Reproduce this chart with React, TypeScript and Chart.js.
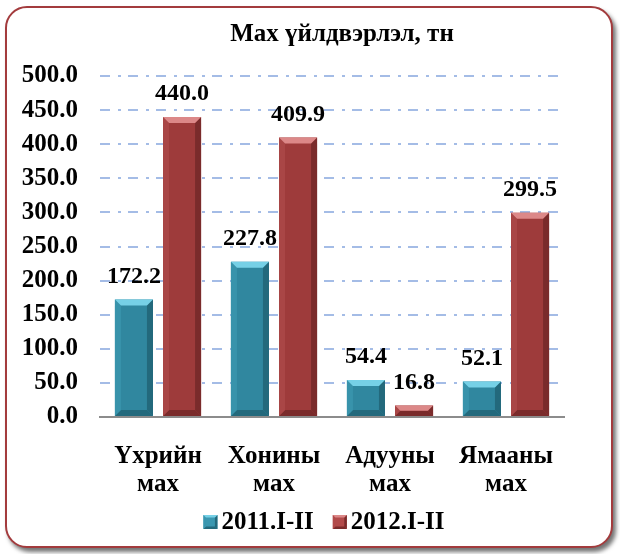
import React, { useEffect, useRef } from "react";
import { Chart, registerables } from "chart.js";

Chart.register(...registerables);

const categories: string[][] = [
  ["Үхрийн", "мах"],
  ["Хонины", "мах"],
  ["Адууны", "мах"],
  ["Ямааны", "мах"],
];
const seriesNames = ["2011.I-II", "2012.I-II"];
const values2011 = [172.2, 227.8, 54.4, 52.1];
const values2012 = [440.0, 409.9, 16.8, 299.5];
const yMin = 0;
const yMax = 500;
const yStep = 50;
const titleText = "Мах үйлдвэрлэл, тн";

const FONT = "'Liberation Serif', 'Times New Roman', serif";

const palette = [
  { main: "#30879f", light: "#76d0e6", side: "#3893ab", dark: "#23697c", legend: "#3a97b0" },
  { main: "#9e3b3b", light: "#dc8888", side: "#a94646", dark: "#7a2b2b", legend: "#b24a4a" },
];

const poly = (ctx: CanvasRenderingContext2D, pts: number[][], fill: string) => {
  ctx.beginPath();
  ctx.moveTo(pts[0][0], pts[0][1]);
  for (let i = 1; i < pts.length; i++) ctx.lineTo(pts[i][0], pts[i][1]);
  ctx.closePath();
  ctx.fillStyle = fill;
  ctx.fill();
};

const drawBevel = (ctx: CanvasRenderingContext2D, l: number, t: number, r: number, btm: number, bev: number, col: any) => {
  const h = btm - t;
  const b = Math.min(bev, h / 2, (r - l) / 2);
  poly(ctx, [[l, btm], [r, btm], [r - b, btm - b], [l + b, btm - b]], col.dark);
  poly(ctx, [[l, t], [l + b, t + b], [l + b, btm - b], [l, btm]], col.side);
  poly(ctx, [[r, t], [r - b, t + b], [r - b, btm - b], [r, btm]], col.dark);
  poly(ctx, [[l, t], [r, t], [r - b, t + b], [l + b, t + b]], col.light);
};

const bevelPlugin = {
  id: "bevel",
  afterDatasetsDraw(chart: any) {
    const ctx = chart.ctx;
    chart.data.datasets.forEach((ds: any, di: number) => {
      const meta = chart.getDatasetMeta(di);
      const col = palette[di];
      meta.data.forEach((bar: any) => {
        const w = bar.width;
        ctx.save();
        drawBevel(ctx, bar.x - w / 2, Math.min(bar.y, bar.base), bar.x + w / 2, Math.max(bar.y, bar.base), 6, col);
        ctx.restore();
      });
    });
  },
};

const labelPlugin = {
  id: "valueLabels",
  afterDatasetsDraw(chart: any) {
    const ctx = chart.ctx;
    ctx.save();
    ctx.font = `bold 24px ${FONT}`;
    ctx.fillStyle = "#000";
    ctx.textAlign = "center";
    ctx.textBaseline = "middle";
    chart.data.datasets.forEach((ds: any, di: number) => {
      const meta = chart.getDatasetMeta(di);
      meta.data.forEach((bar: any, i: number) => {
        const v = ds.data[i] as number;
        ctx.fillText(v.toFixed(1), bar.x, bar.y - 23);
      });
    });
    ctx.restore();
  },
};

const titleLegendPlugin = {
  id: "titleLegend",
  afterDraw(chart: any) {
    const ctx = chart.ctx as CanvasRenderingContext2D;
    ctx.save();
    ctx.fillStyle = "#000";
    ctx.textBaseline = "middle";
    ctx.textAlign = "center";
    ctx.font = `bold 25px ${FONT}`;
    ctx.fillText(titleText, 342, 35);

    ctx.font = `bold 25px ${FONT}`;
    ctx.textAlign = "left";
    const box = 14;
    const gapBoxText = 4;
    const gapItems = 19;
    const widths = seriesNames.map((s) => box + gapBoxText + ctx.measureText(s).width);
    const total = widths.reduce((a, b) => a + b, 0) + gapItems * (widths.length - 1);
    let x = 324 - total / 2;
    const cy = 522;
    seriesNames.forEach((s, i) => {
      const col = palette[i];
      ctx.fillStyle = col.legend;
      ctx.fillRect(x, cy - box / 2, box, box);
      drawBevel(ctx, x, cy - box / 2, x + box, cy + box / 2, 2.5, { ...col, side: col.legend });
      ctx.fillStyle = "#000";
      ctx.fillText(s, x + box + gapBoxText, cy + 1);
      x += widths[i] + gapItems;
    });
    ctx.restore();
  },
};

export default function App() {
  const canvasRef = useRef<HTMLCanvasElement | null>(null);

  useEffect(() => {
    const canvas = canvasRef.current;
    if (!canvas) return;
    const chart = new Chart(canvas, {
      type: "bar",
      data: {
        labels: categories,
        datasets: [
          {
            label: seriesNames[0],
            data: values2011,
            backgroundColor: palette[0].main,
            borderWidth: 0,
            categoryPercentage: 0.83,
            barPercentage: 0.79,
          },
          {
            label: seriesNames[1],
            data: values2012,
            backgroundColor: palette[1].main,
            borderWidth: 0,
            categoryPercentage: 0.83,
            barPercentage: 0.79,
          },
        ],
      },
      options: {
        responsive: false,
        animation: false,
        devicePixelRatio: 1,
        layout: { padding: { left: 0, right: 56, top: 76, bottom: 29 } },
        plugins: {
          title: { display: false },
          legend: { display: false },
          tooltip: { enabled: false },
        },
        scales: {
          x: {
            grid: { display: false, drawTicks: false },
            border: { display: true, color: "#8c8c8c", width: 2 },
            ticks: {
              color: "#000",
              font: { family: FONT, size: 25, weight: "bold", lineHeight: 1.12 },
              padding: 26,
              maxRotation: 0,
              autoSkip: false,
            },
          },
          y: {
            min: yMin,
            max: yMax,
            afterFit: (axis: any) => {
              axis.width = 100;
            },
            grid: {
              color: (c: any) => (c.tick && c.tick.value === 0 ? "rgba(0,0,0,0)" : "#a4bce6"),
              lineWidth: 2,
              drawTicks: false,
            },
            border: { display: false, dash: [10, 8, 3, 7] },
            ticks: {
              stepSize: yStep,
              autoSkip: false,
              color: "#000",
              font: { family: FONT, size: 25, weight: "bold" },
              padding: 22,
              callback: (v: any) => Number(v).toFixed(1),
            },
          },
        },
      } as any,
      plugins: [bevelPlugin, labelPlugin, titleLegendPlugin],
    });
    return () => chart.destroy();
  }, []);

  return (
    <div style={{ position: "absolute", left: 0, top: 0, width: 620, height: 554, background: "#fff", overflow: "hidden" }}>
      <div
        style={{
          position: "absolute",
          left: 5,
          top: 6,
          width: 608,
          height: 542,
          boxSizing: "border-box",
          border: "2.5px solid #a33b3d",
          borderRadius: 22,
          boxShadow: "3px 4px 4px rgba(0,0,0,0.55)",
          background: "#fff",
        }}
      />
      <canvas ref={canvasRef} width={620} height={554} style={{ position: "absolute", left: 0, top: 0, width: 620, height: 554 }} />
    </div>
  );
}
